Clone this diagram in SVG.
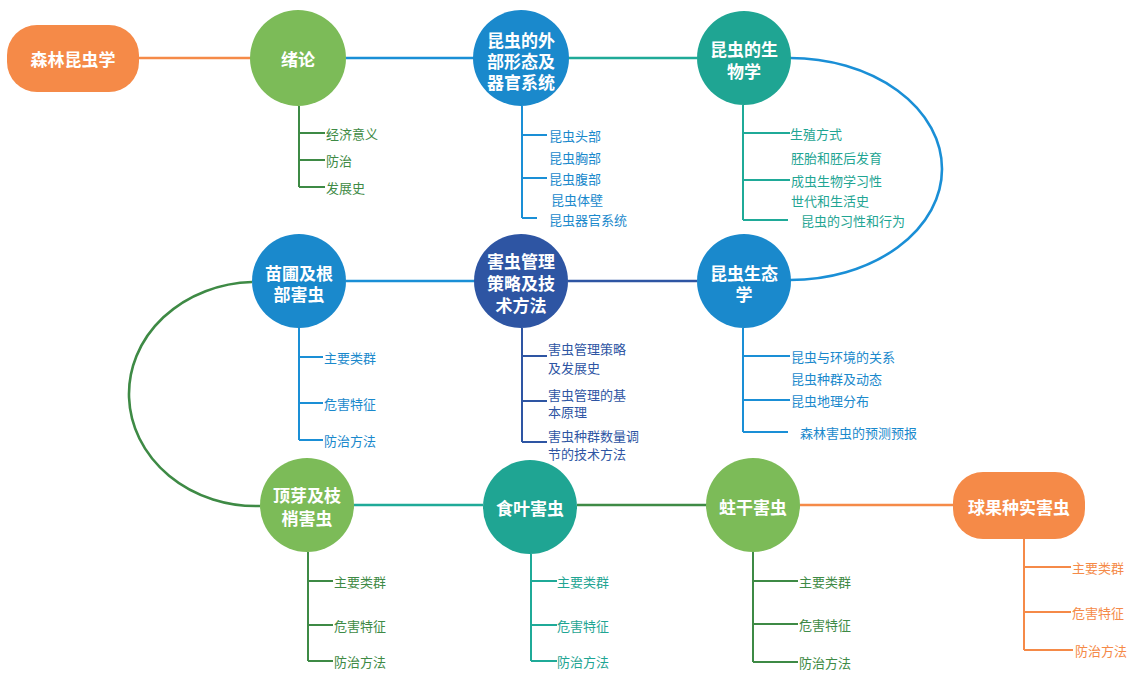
<svg xmlns="http://www.w3.org/2000/svg" width="1137" height="675" viewBox="0 0 1137 675">
<style>
.bg{fill:#ffffff}
.nt{font-family:"Noto Sans CJK SC","Noto Sans",sans-serif;font-weight:bold;font-size:17px;fill:#ffffff;text-anchor:middle;dominant-baseline:central}
.ct{font-family:"Noto Sans CJK SC","Noto Sans",sans-serif;font-size:13px;dominant-baseline:central}
.c{fill:none;stroke-width:2.6}
.b{fill:none;stroke-width:2}
.orange{fill:#F58A48}
.green{fill:#7CBB58}
.blue{fill:#1A89CC}
.teal{fill:#1FA593}
.navy{fill:#2E55A3}
.so{stroke:#F58A48}
.sb{stroke:#1A8FD6}
.st{stroke:#1FAA98}
.sn{stroke:#2E55A3}
.sg{stroke:#3E8A45}
.tg{fill:#3E8A45}
.tb{fill:#1A89CC}
.tt{fill:#1FA593}
.tn{fill:#2E55A3}
.to{fill:#F58A48}
</style>
<rect class="bg" x="0" y="0" width="1137" height="675"/>
<g id="connectors">
<line class="c so" x1="139" y1="58" x2="251" y2="58"/>
<line class="c sb" x1="346" y1="58" x2="474" y2="58"/>
<line class="c st" x1="568" y1="58" x2="697" y2="58"/>
<path class="c sb" d="M 790 58 A 152 111 0 0 1 790 280"/>
<line class="c sn" x1="568" y1="281" x2="697" y2="281"/>
<line class="c sb" x1="346" y1="281" x2="475" y2="281"/>
<path class="c sg" d="M 252 282 A 127 112 0 0 0 260 506"/>
<line class="c st" x1="354" y1="505" x2="483" y2="505"/>
<line class="c sg" x1="577" y1="505" x2="707" y2="505"/>
<line class="c so" x1="800" y1="505" x2="953" y2="505"/>
</g>
<g id="root">
<rect class="orange" x="7" y="25" width="132" height="67" rx="30"/>
<text class="nt" x="73" y="58">森林昆虫学</text>
</g>
<g id="n-xulun">
<circle class="green" cx="298" cy="58" r="48"/>
<text class="nt" x="298" y="58">绪论</text>
<path class="b sg" d="M299 106 V187 M299 133 H325 M299 160 H325 M299 187 H325"/>
<text class="ct tg" x="326" y="133">经济意义</text>
<text class="ct tg" x="326" y="160">防治</text>
<text class="ct tg" x="326" y="187">发展史</text>
</g>
<g id="n-waibu">
<circle class="blue" cx="521" cy="58" r="48"/>
<text class="nt" x="521" y="39">昆虫的外</text>
<text class="nt" x="521" y="60">部形态及</text>
<text class="nt" x="521" y="81">器官系统</text>
<path class="b sb" d="M522 106 V218 M522 135 H547 M522 178 H547 M522 218 H537"/>
<text class="ct tb" x="549" y="135">昆虫头部</text>
<text class="ct tb" x="549" y="157">昆虫胸部</text>
<text class="ct tb" x="549" y="178">昆虫腹部</text>
<text class="ct tb" x="551" y="199">昆虫体壁</text>
<text class="ct tb" x="549" y="219">昆虫器官系统</text>
</g>
<g id="n-shengwu">
<circle class="teal" cx="744" cy="58" r="47"/>
<text class="nt" x="744" y="48">昆虫的生</text>
<text class="nt" x="744" y="70">物学</text>
<path class="b st" d="M743 105 V220 M743 133 H790 M743 180 H790 M743 220 H788"/>
<text class="ct tt" x="790" y="133">生殖方式</text>
<text class="ct tt" x="791" y="157">胚胎和胚后发育</text>
<text class="ct tt" x="791" y="180">成虫生物学习性</text>
<text class="ct tt" x="791" y="200">世代和生活史</text>
<text class="ct tt" x="801" y="220">昆虫的习性和行为</text>
</g>
<g id="n-shengtai">
<circle class="blue" cx="744" cy="281" r="47"/>
<text class="nt" x="744" y="272">昆虫生态</text>
<text class="nt" x="744" y="293">学</text>
<path class="b sb" d="M743 328 V432 M743 356 H790 M743 400 H790 M743 432 H788"/>
<text class="ct tb" x="791" y="356">昆虫与环境的关系</text>
<text class="ct tb" x="791" y="378">昆虫种群及动态</text>
<text class="ct tb" x="791" y="400">昆虫地理分布</text>
<text class="ct tb" x="800" y="432">森林害虫的预测预报</text>
</g>
<g id="n-guanli">
<circle class="navy" cx="521" cy="281" r="47"/>
<text class="nt" x="521" y="260">害虫管理</text>
<text class="nt" x="521" y="282">策略及技</text>
<text class="nt" x="521" y="304">术方法</text>
<path class="b sn" d="M522 328 V442 M522 356 H547 M522 401 H547 M522 442 H547"/>
<text class="ct tn" x="548" y="348">害虫管理策略</text>
<text class="ct tn" x="548" y="367">及发展史</text>
<text class="ct tn" x="548" y="394">害虫管理的基</text>
<text class="ct tn" x="548" y="411">本原理</text>
<text class="ct tn" x="548" y="435">害虫种群数量调</text>
<text class="ct tn" x="548" y="453">节的技术方法</text>
</g>
<g id="n-miaopu">
<circle class="blue" cx="299" cy="281" r="47"/>
<text class="nt" x="299" y="272">苗圃及根</text>
<text class="nt" x="299" y="293">部害虫</text>
<path class="b sb" d="M299 328 V440 M299 357 H323 M299 403 H323 M299 440 H323"/>
<text class="ct tb" x="324" y="357">主要类群</text>
<text class="ct tb" x="324" y="403">危害特征</text>
<text class="ct tb" x="324" y="440">防治方法</text>
</g>
<g id="n-dingya">
<circle class="green" cx="307" cy="505" r="47"/>
<text class="nt" x="307" y="494">顶芽及枝</text>
<text class="nt" x="307" y="517">梢害虫</text>
<path class="b sg" d="M308 552 V661 M308 581 H333 M308 625 H333 M308 661 H333"/>
<text class="ct tg" x="334" y="581">主要类群</text>
<text class="ct tg" x="334" y="625">危害特征</text>
<text class="ct tg" x="334" y="661">防治方法</text>
</g>
<g id="n-shiye">
<circle class="teal" cx="530" cy="507" r="47"/>
<text class="nt" x="530" y="507">食叶害虫</text>
<path class="b st" d="M531 554 V661 M531 581 H557 M531 625 H557 M531 661 H557"/>
<text class="ct tt" x="557" y="581">主要类群</text>
<text class="ct tt" x="557" y="625">危害特征</text>
<text class="ct tt" x="557" y="661">防治方法</text>
</g>
<g id="n-zhugan">
<circle class="green" cx="753" cy="505" r="47"/>
<text class="nt" x="753" y="506">蛀干害虫</text>
<path class="b sg" d="M753 552 V662 M753 581 H798 M753 624 H798 M753 662 H798"/>
<text class="ct tg" x="799" y="581">主要类群</text>
<text class="ct tg" x="799" y="624">危害特征</text>
<text class="ct tg" x="799" y="662">防治方法</text>
</g>
<g id="n-qiuguo">
<rect class="orange" x="953" y="472" width="132" height="67" rx="30"/>
<text class="nt" x="1019" y="506">球果种实害虫</text>
<path class="b so" d="M1024 539 V650 M1024 567 H1071 M1024 612 H1071 M1024 650 H1073"/>
<text class="ct to" x="1072" y="567">主要类群</text>
<text class="ct to" x="1072" y="612">危害特征</text>
<text class="ct to" x="1075" y="650">防治方法</text>
</g>
</svg>
